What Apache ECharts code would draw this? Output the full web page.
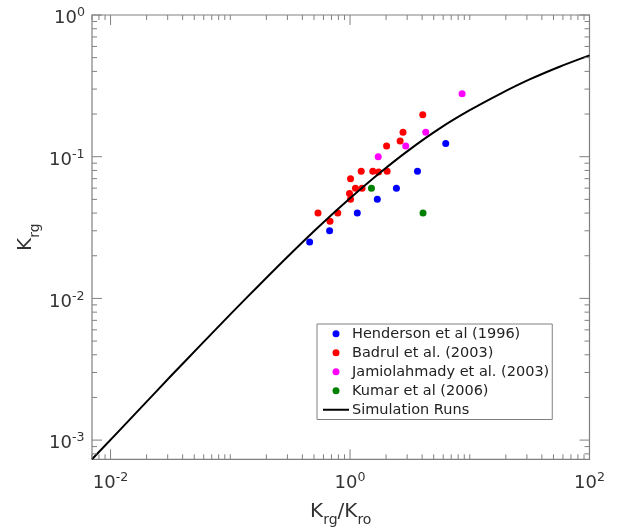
<!DOCTYPE html>
<html>
<head>
<meta charset="utf-8">
<script src="https://cdn.jsdelivr.net/npm/echarts@6/dist/echarts.min.js"></script>
<style>
  html, body { margin: 0; padding: 0; background: #ffffff; }
  #chart { width: 617px; height: 529px; }
</style>
</head>
<body>
<div id="chart"></div>
<script>
// Measured relative permeability data (x: Krg/Kro, y: Krg)
const hendersonX = [0.46, 0.675, 1.15, 1.69, 2.44, 3.66, 6.30];
const hendersonY = [0.025, 0.030, 0.040, 0.050, 0.060, 0.079, 0.124];

const badrulX = [0.54, 0.68, 0.79, 0.99, 1.01, 1.01, 1.11, 1.26, 1.24, 1.55, 1.73, 2.04, 2.02, 2.62, 2.77, 4.05];
const badrulY = [0.040, 0.035, 0.040, 0.055, 0.050, 0.070, 0.060, 0.060, 0.079, 0.079, 0.078, 0.079, 0.119, 0.129, 0.149, 0.198];

const jamiolahmadyX = [1.72, 2.92, 4.29, 8.63];
const jamiolahmadyY = [0.100, 0.119, 0.149, 0.278];

const kumarX = [1.51, 4.07];
const kumarY = [0.060, 0.040];

// Simulation curve
const simX = [0.007, 0.0178, 0.0316, 0.0562, 0.1, 0.178, 0.316, 0.562, 1, 1.78, 3.16, 5.62, 10, 17.8, 31.6, 56.2, 100];
const simY = [0.000732, 0.00168, 0.00281, 0.00466, 0.00771, 0.01265, 0.0205, 0.0327, 0.0509, 0.0771, 0.1127, 0.1585, 0.2128, 0.2767, 0.3508, 0.4315, 0.5188];

// Axis ranges and labelled ticks
const xRange = [0.007, 100];
const yRange = [0.000732, 1];
const xLabelValues = [0.01, 1, 100];
const xLabelExps = ['-2', '0', '2'];
const yLabelValues = [1, 0.1, 0.01, 0.001];
const yLabelExps = ['0', '-1', '-2', '-3'];

const seriesNames = ['Henderson et al (1996)', 'Badrul et al. (2003)', 'Jamiolahmady et al. (2003)', 'Kumar et al (2006)', 'Simulation Runs'];

const FONT = '"DejaVu Sans", "Liberation Sans", sans-serif';
const TEXT_COLOR = '#333333';
const FRAME_COLOR = '#808080';

function pairs(xs, ys) { return xs.map((x, i) => [x, ys[i]]); }

// Tick positions: every 1..9 multiple of each decade inside the axis range
function decadeTicks(range) {
  const out = [];
  const lo = Math.floor(Math.log10(range[0]));
  const hi = Math.ceil(Math.log10(range[1]));
  for (let d = lo; d <= hi; d++) {
    for (let m = 1; m <= 9; m++) {
      const v = m * Math.pow(10, d);
      if (v >= range[0] * 0.9999 && v <= range[1] * 1.0001) out.push({ v: v, decade: m === 1, exp: d });
    }
  }
  return out;
}

const powRich = {
  b: { fontSize: 18, lineHeight: 24, fontFamily: FONT, fill: TEXT_COLOR, color: TEXT_COLOR },
  s: { fontSize: 12.6, lineHeight: 12, fontFamily: FONT, fill: TEXT_COLOR, color: TEXT_COLOR, verticalAlign: 'top' }
};
const titleRich = {
  k: { fontSize: 20, lineHeight: 26, fontFamily: FONT, fill: TEXT_COLOR, color: TEXT_COLOR, verticalAlign: 'top' },
  r: { fontSize: 14, lineHeight: 14, fontFamily: FONT, fill: TEXT_COLOR, color: TEXT_COLOR, verticalAlign: 'bottom' }
};

function textEl(x, y, text, rich, align, rotation) {
  return {
    type: 'text', x: x, y: y, rotation: rotation || 0,
    style: {
      text: text, rich: rich, fill: TEXT_COLOR, fontFamily: FONT, fontSize: 18,
      align: align, textAlign: align, verticalAlign: 'middle', textVerticalAlign: 'middle'
    }
  };
}

function lineEl(x1, y1, x2, y2) {
  return {
    type: 'line',
    shape: { x1: x1, y1: y1, x2: x2, y2: y2 },
    style: { stroke: FRAME_COLOR, lineWidth: 1 }
  };
}

// Inward ticks on all four sides, decade labels and axis titles
function renderAxes(params, api) {
  const bl = api.coord([xRange[0], yRange[0]]);
  const tr = api.coord([xRange[1], yRange[1]]);
  const left = bl[0], bottom = bl[1], right = tr[0], top = tr[1];
  const children = [];

  decadeTicks(xRange).forEach(function (t) {
    const px = api.coord([t.v, yRange[0]])[0];
    const len = (t.decade && t.exp % 2 === 0) ? 10 : 5;
    children.push(lineEl(px, bottom, px, bottom - len));
    children.push(lineEl(px, top, px, top + len));
  });
  decadeTicks(yRange).forEach(function (t) {
    const py = api.coord([xRange[0], t.v])[1];
    const len = t.decade ? 10 : 5;
    children.push(lineEl(left, py, left + len, py));
    children.push(lineEl(right, py, right - len, py));
  });

  xLabelValues.forEach(function (v, i) {
    const px = api.coord([v, yRange[0]])[0];
    children.push(textEl(px, bottom + 24, '{b|10}{s|' + xLabelExps[i] + '}', powRich, 'center'));
  });
  yLabelValues.forEach(function (v, i) {
    const py = api.coord([xRange[0], v])[1];
    const neg = yLabelExps[i].charAt(0) === '-';
    children.push(textEl(left - (neg ? 43 : 38), py + 3.5, '{b|10}{s|' + yLabelExps[i] + '}', powRich, 'left'));
  });

  const cx = (left + right) / 2;
  const cy = (top + bottom) / 2;
  children.push(textEl(cx, bottom + 55, '{k|K}{r|rg}{k|/K}{r|ro}', titleRich, 'center'));
  children.push(textEl(29, cy, '{k|K}{r|rg}', titleRich, 'center', Math.PI / 2));

  return { type: 'group', children: children };
}

const chart = echarts.init(document.getElementById('chart'), null, { renderer: 'canvas' });

const scatterBase = { type: 'scatter', symbol: 'circle', symbolSize: 7, z: 3 };

chart.setOption({
  animation: false,
  backgroundColor: '#ffffff',
  grid: {
    left: 92, right: 27.5, top: 15, bottom: 69.7,
    show: true, borderColor: FRAME_COLOR, borderWidth: 1.2,
    outerBoundsMode: 'none'
  },
  xAxis: {
    type: 'log', logBase: 10, min: xRange[0], max: xRange[1],
    axisLine: { show: false }, axisTick: { show: false },
    axisLabel: { show: false }, splitLine: { show: false }
  },
  yAxis: {
    type: 'log', logBase: 10, min: yRange[0], max: yRange[1],
    axisLine: { show: false }, axisTick: { show: false },
    axisLabel: { show: false }, splitLine: { show: false }
  },
  legend: {
    data: [
      { name: seriesNames[0], icon: 'circle' },
      { name: seriesNames[1], icon: 'circle' },
      { name: seriesNames[2], icon: 'circle' },
      { name: seriesNames[3], icon: 'circle' },
      { name: seriesNames[4], itemStyle: { opacity: 0 } }
    ],
    orient: 'vertical',
    left: 317, top: 324,
    itemWidth: 26, itemHeight: 7, itemGap: 4,
    padding: [2.25, 3, 2.25, 5],
    borderColor: FRAME_COLOR, borderWidth: 1, borderRadius: 0,
    backgroundColor: '#ffffff',
    selectedMode: false,
    textStyle: { fontFamily: FONT, fontSize: 14.5, color: '#222222', lineHeight: 14.5, padding: [0, 0, 0, -2] }
  },
  series: [
    Object.assign({}, scatterBase, { name: seriesNames[0], data: pairs(hendersonX, hendersonY), itemStyle: { color: '#0000ff', opacity: 1 } }),
    Object.assign({}, scatterBase, { name: seriesNames[1], data: pairs(badrulX, badrulY), itemStyle: { color: '#ff0000', opacity: 1 } }),
    Object.assign({}, scatterBase, { name: seriesNames[2], data: pairs(jamiolahmadyX, jamiolahmadyY), itemStyle: { color: '#ff00ff', opacity: 1 } }),
    Object.assign({}, scatterBase, { name: seriesNames[3], data: pairs(kumarX, kumarY), itemStyle: { color: '#008000', opacity: 1 } }),
    {
      name: seriesNames[4], type: 'line', data: pairs(simX, simY),
      symbol: 'none', showSymbol: false, smooth: 0.3, z: 4,
      lineStyle: { color: '#000000', width: 2 }, itemStyle: { color: '#000000' }
    },
    {
      type: 'custom', renderItem: renderAxes, data: [[1, 0.1]],
      silent: true, clip: false, z: 5
    }
  ]
});
</script>
</body>
</html>
